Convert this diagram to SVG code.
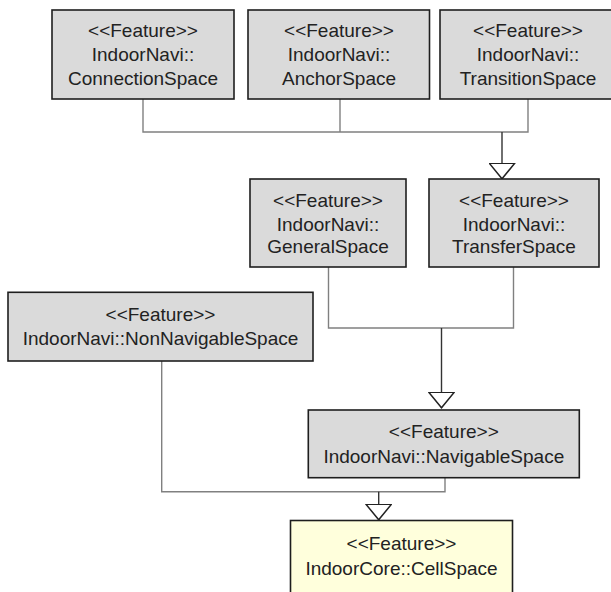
<svg xmlns="http://www.w3.org/2000/svg" width="611" height="592" viewBox="0 0 611 592">
<style>
.box{fill:#dadada;stroke:#1e1e1e;stroke-width:1.6}
.core{fill:#ffffdc;stroke:#1e1e1e;stroke-width:1.6}
text{font-family:"Liberation Sans",Arial,sans-serif;font-size:19px;fill:#222;text-anchor:middle}
.branch{fill:none;stroke:#808080;stroke-width:1.4}
.gen{fill:none;stroke:#333;stroke-width:1.4}
</style>
<defs>
<marker id="tri" viewBox="0 0 17 27" refX="16.5" refY="13.5" markerWidth="17" markerHeight="27" markerUnits="userSpaceOnUse" orient="auto">
<path d="M0.8,0.8 L16.3,13.5 L0.8,26.2 Z" fill="#fff" stroke="#222" stroke-width="1.5"/>
</marker>
</defs>
<g id="connectors">
<path class="branch" d="M143,99 V132 H528 V99 M340,99 V132"/>
<path class="gen" d="M502,132 V179" marker-end="url(#tri)"/>
<path class="branch" d="M328.5,267 V328 H513.5 V267"/>
<path class="gen" d="M441.5,328 V408" marker-end="url(#tri)"/>
<path class="branch" d="M161.7,361 V491.7 H445 V478"/>
<path class="gen" d="M378.7,491.7 V520" marker-end="url(#tri)"/>
</g>
<g id="ConnectionSpace">
<rect class="box" x="52" y="10" width="182" height="89"/>
<text x="143" y="37">&lt;&lt;Feature&gt;&gt;</text>
<text x="143" y="61">IndoorNavi::</text>
<text x="143" y="85">ConnectionSpace</text>
</g>
<g id="AnchorSpace">
<rect class="box" x="248" y="10" width="181.5" height="89"/>
<text x="339" y="37">&lt;&lt;Feature&gt;&gt;</text>
<text x="339" y="61">IndoorNavi::</text>
<text x="339" y="85">AnchorSpace</text>
</g>
<g id="TransitionSpace">
<rect class="box" x="440" y="10" width="175" height="89"/>
<text x="528" y="37">&lt;&lt;Feature&gt;&gt;</text>
<text x="528" y="61">IndoorNavi::</text>
<text x="528" y="85">TransitionSpace</text>
</g>
<g id="GeneralSpace">
<rect class="box" x="250" y="179" width="156" height="88"/>
<text x="328" y="206.5">&lt;&lt;Feature&gt;&gt;</text>
<text x="328" y="230.5">IndoorNavi::</text>
<text x="328" y="253">GeneralSpace</text>
</g>
<g id="TransferSpace">
<rect class="box" x="429" y="179" width="170" height="88"/>
<text x="514" y="206.5">&lt;&lt;Feature&gt;&gt;</text>
<text x="514" y="230.5">IndoorNavi::</text>
<text x="514" y="253">TransferSpace</text>
</g>
<g id="NonNavigableSpace">
<rect class="box" x="8" y="292.3" width="305" height="68.7"/>
<text x="160.5" y="320.7">&lt;&lt;Feature&gt;&gt;</text>
<text x="160.5" y="345">IndoorNavi::NonNavigableSpace</text>
</g>
<g id="NavigableSpace">
<rect class="box" x="308.3" y="410" width="271" height="67.7"/>
<text x="443.8" y="438.3">&lt;&lt;Feature&gt;&gt;</text>
<text x="443.8" y="462.7">IndoorNavi::NavigableSpace</text>
</g>
<g id="CellSpace">
<rect class="core" x="290.5" y="520.5" width="222" height="80"/>
<text x="401.5" y="550">&lt;&lt;Feature&gt;&gt;</text>
<text x="401.5" y="575">IndoorCore::CellSpace</text>
</g>
</svg>
